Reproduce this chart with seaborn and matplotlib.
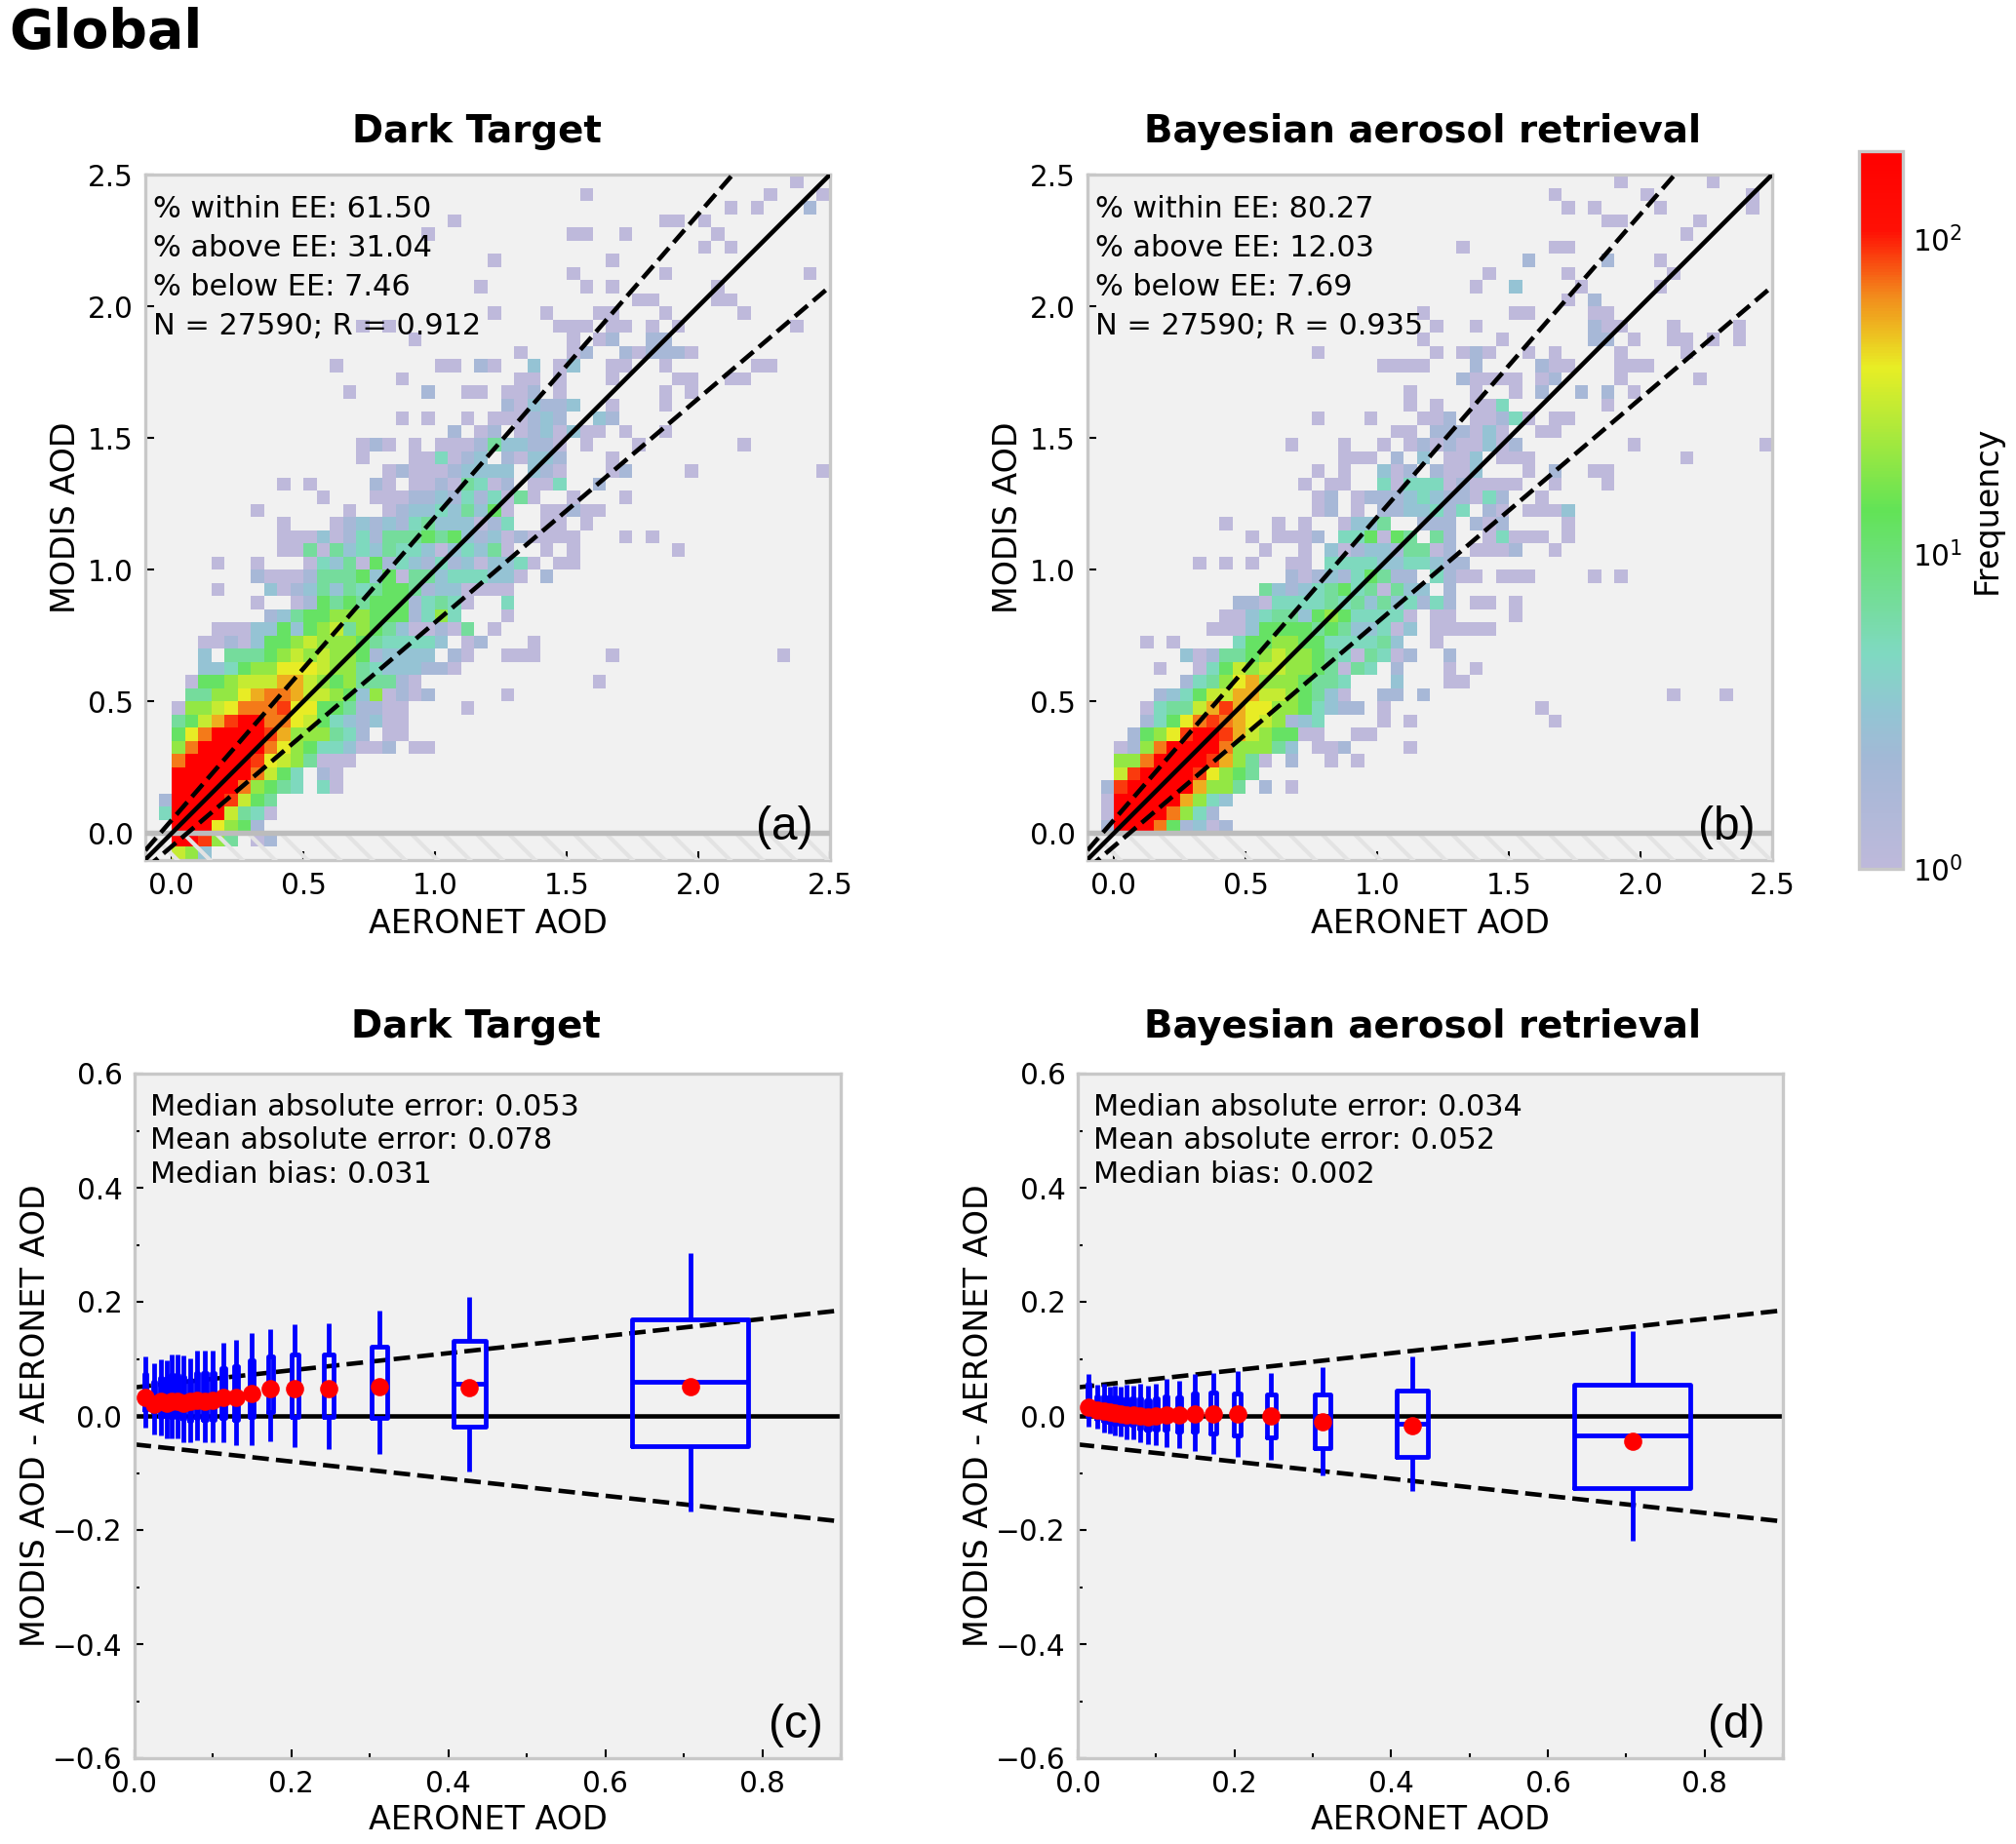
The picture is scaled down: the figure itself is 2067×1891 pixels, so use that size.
import numpy as np
import pandas as pd
import seaborn as sns
import matplotlib
matplotlib.use("Agg")
import matplotlib.pyplot as plt
from matplotlib.cm import ScalarMappable
from matplotlib.colors import LinearSegmentedColormap, LogNorm
from matplotlib.patches import Rectangle
from matplotlib.ticker import MultipleLocator

FREQ = {"1": 1, "2": 2, "3": 3, "4": 5, "5": 7, "6": 12, "7": 20, "8": 30,
        "9": 40, "A": 55, "B": 70, "C": 90, "D": 190}

# (MODIS bin, first AERONET bin, frequency letters); bins are 0.05 wide, bin 0 starts at AOD 0
DT_CELLS = [
    (-2, 0, "873"), (-1, 0, "DDC75.12"), (0, 0, "DDD9762"), (1, -1, "4DDDD8541"),
    (2, -1, "2DDDDC865"), (3, 0, "DDDDDB7654.41"), (4, 0, "DDDDDDB864.21"),
    (5, 0, "BDDDDDC9875111"), (6, 0, "7BDDDDDB976443112.11"), (7, 0, "69BDDDDCA777542.11"),
    (8, 0, "568ACDDBB986432311"), (9, 0, "17789BBBC996652211....1"),
    (10, 1, "55779ABBA8876371212"), (10, 25, "1"), (11, 1, "1667888AA876755521"), (11, 32, "1"),
    (12, 2, "33467799987754333221"), (13, 2, "3.5556787877623333.21"), (13, 25, "111"),
    (13, 33, "1"), (13, 46, "1"), (14, 2, "1121366787776544443.12"), (14, 27, "1"),
    (15, 3, "11133636785765311215"), (15, 24, "1"), (16, 7, "235667776662474"), (16, 25, "1"),
    (17, 6, "1..12656566624541"), (17, 25, "4"), (18, 3, "1"), (18, 7, "3123535456652331111"),
    (19, 6, "211125556361553444331.2"), (20, 3, "1"), (20, 6, "1...143516243242313341.11"),
    (21, 8, "115153435443134351..1.1"), (21, 38, "1"), (22, 8, "11131242555656323121111"),
    (22, 34, "1.1"), (23, 8, "1...12323245333124..11.1"), (24, 6, "1"),
    (24, 13, "1..1233435361..11211"), (25, 11, "1"), (25, 15, "1112232424151..1"), (25, 34, "1"),
    (26, 8, "1.1"), (26, 15, "21.11215412.114..2"), (27, 16, "1211123333.321...12"),
    (27, 39, "1"), (27, 49, "1"), (28, 14, "1"), (28, 18, "114123.21332"), (28, 33, "1"),
    (29, 14, "121.1.1112533221.1"), (29, 35, "1"), (29, 43, "1"), (30, 21, "2.12.1231311.1"),
    (30, 37, "1"), (31, 17, "1.1"), (31, 22, "1.111232..32"), (32, 25, "213223..1"), (32, 37, "1"),
    (33, 13, "1"), (33, 19, "2"), (33, 22, "11.112.1"), (33, 37, "1.1"), (34, 17, "1"),
    (34, 26, "11.1"), (34, 33, "1"), (34, 38, "11"), (34, 42, "11"), (35, 12, "1"),
    (35, 20, "11.21"), (35, 27, "3.13"), (35, 33, "11"), (35, 37, "1"), (35, 44, "11"),
    (36, 26, "1"), (36, 30, "12"), (36, 34, "212221"), (37, 18, "1"), (37, 30, "1.12"),
    (37, 36, "22"), (38, 14, "1.1"), (38, 29, "111.11.1.1"), (38, 47, "1"), (39, 24, "1"),
    (39, 28, "1"), (39, 32, "11"), (39, 37, "1"), (39, 43, "1"), (40, 35, "11"), (40, 41, "11"),
    (41, 23, "1"), (41, 31, "1.1"), (41, 41, "1"), (42, 30, "1"), (42, 37, "1"), (42, 48, "1"),
    (43, 24, "1"), (43, 33, "1"), (44, 40, "1.1"), (45, 19, "1"), (45, 30, "11"), (45, 34, "1"),
    (45, 41, "1"), (46, 21, "1"), (46, 37, "11"), (46, 40, "1"), (47, 42, "1"), (47, 44, "1"),
    (47, 48, "2"), (48, 31, "1"), (48, 45, "1"), (48, 49, "1"), (49, 47, "1"),
]

BAR_CELLS = [
    (0, -1, "2DDDB62312"), (1, -1, "1DDDDB742"), (2, -1, "1DDDDDA743"), (3, -1, "2CDDDDDA775.2.1"),
    (4, 0, "8CDDDDC9765"), (5, 0, "77BDDDDCA751.2..1.1"), (6, 0, "127BDDDDB77753.112....1"),
    (7, 1, "2679CDDCA876611..11"), (8, 2, "2469BCBA987234....1.1"), (8, 33, "1"),
    (9, 2, "14558ACA997764322.1"), (9, 32, "1"), (10, 3, "234688AA8876531..22.1"), (10, 23, "1"),
    (10, 42, "1"), (10, 46, "1"), (11, 5, "24579A7776554...3"), (11, 25, "11"), (12, 3, "1"),
    (12, 6, "14687887765154.2"), (12, 25, "1.1"), (13, 5, "312556787765415412"), (13, 25, "2"),
    (14, 2, "1.1"), (14, 9, "4667766444453..1"), (15, 7, "1113666656533413.11111"),
    (16, 8, "113455367644441.11....1"), (17, 9, "22144445453534242.11.1"),
    (18, 11, "5323456451533.2"), (19, 13, "2123246522.4211.111"), (19, 36, "1.1"),
    (20, 6, "1.1.1"), (20, 13, "11.44443344322"), (21, 11, "1..1.3123325512.1112..1"),
    (22, 10, "1.1112.446165.52..14111.1"), (23, 8, "1...1.1..1335..222.212....1"),
    (24, 15, "12.1.2233424.21.1113"), (25, 15, "12.122234322142..1"),
    (26, 14, "1.11..41444121111..1...1"), (27, 15, "1.1..312.2113...1.2..11"),
    (28, 17, "111.2.3.113.111"), (28, 43, "1"), (29, 13, "1"), (29, 17, "1"),
    (29, 20, "1.121211312"), (29, 39, "1"), (29, 49, "1"), (30, 21, "11.222131..11"),
    (31, 15, "1...1"), (31, 23, "112.11241.11"), (32, 22, "1.1..114"), (32, 37, "1"),
    (33, 22, "1"), (33, 27, "1"), (33, 30, "1"), (33, 32, "2"), (33, 35, "2"), (33, 37, "2.1"),
    (34, 26, "21111"), (34, 32, "12"), (34, 38, "1"), (34, 44, "1"), (35, 20, "1111"),
    (35, 27, "2"), (35, 32, "211"), (35, 38, "111"), (36, 15, "1"), (36, 24, "1.121"),
    (36, 31, "1.1"), (36, 38, "1"), (36, 43, "1"), (37, 23, "1"), (37, 29, "1"), (37, 36, "22.1"),
    (37, 42, "11.1.1"), (38, 24, "1"), (38, 27, "1"), (38, 36, "211"), (38, 42, "1"), (38, 47, "1"),
    (39, 23, "1"), (39, 30, "11"), (39, 36, "11"), (40, 34, "1.2"), (41, 27, "1"), (41, 30, "3"),
    (41, 35, "1"), (41, 41, "1"), (42, 28, "1"), (42, 34, "1"), (42, 42, "1"), (43, 31, "2"),
    (43, 37, "2"), (43, 41, "1"), (44, 26, "1"), (44, 33, "11"), (45, 43, "1"), (46, 37, "11"),
    (46, 44, "1"), (47, 34, "1.1"), (47, 41, "1"), (47, 48, "1"), (48, 33, "1"), (48, 40, "1"),
    (48, 48, "1"), (49, 38, "1"), (49, 45, "1"),
]

# Expected error envelope and 1:1 line
SCATTER_X = [-0.1, 2.5]
ONE_TO_ONE = [-0.1, 2.5]
EE_UPPER = [-0.065, 2.925]
EE_LOWER = [-0.135, 2.075]
DIFF_X = [0.0, 0.9]
DIFF_UPPER = [0.05, 0.185]
DIFF_LOWER = [-0.05, -0.185]

# Box plots, one box per AERONET AOD bin
BOX_X = [0.0137, 0.025, 0.0336, 0.0406, 0.0477, 0.0547, 0.0622, 0.0705, 0.0796, 0.0895,
         0.100, 0.113, 0.129, 0.149, 0.173, 0.204, 0.247, 0.312, 0.427, 0.708]
BOX_W = [0.003, 0.003, 0.003, 0.003, 0.003, 0.003, 0.003, 0.003, 0.0035, 0.004,
         0.004, 0.004, 0.005, 0.0053, 0.0066, 0.0085, 0.012, 0.02, 0.0405, 0.148]

DT_HI = [0.105, 0.092, 0.100, 0.097, 0.107, 0.107, 0.106, 0.101, 0.115, 0.115,
         0.115, 0.128, 0.134, 0.146, 0.152, 0.160, 0.162, 0.184, 0.208, 0.286]
DT_Q3 = [0.074, 0.060, 0.067, 0.065, 0.071, 0.071, 0.068, 0.063, 0.076, 0.076,
         0.076, 0.084, 0.088, 0.098, 0.104, 0.107, 0.107, 0.122, 0.131, 0.170]
DT_MED = [0.035, 0.024, 0.028, 0.026, 0.028, 0.028, 0.026, 0.026, 0.030, 0.030,
          0.030, 0.034, 0.034, 0.044, 0.050, 0.048, 0.050, 0.058, 0.056, 0.059]
DT_Q1 = [0.010, 0.007, -0.002, 0.001, -0.002, -0.002, -0.005, -0.009, -0.003, -0.006,
         -0.006, -0.003, -0.006, -0.002, 0.006, -0.002, -0.002, -0.003, -0.019, -0.053]
DT_LO = [-0.021, -0.033, -0.034, -0.039, -0.040, -0.040, -0.046, -0.046, -0.042, -0.047,
         -0.046, -0.047, -0.051, -0.051, -0.044, -0.055, -0.058, -0.066, -0.097, -0.168]
DT_MEAN = [0.033, 0.021, 0.025, 0.022, 0.025, 0.026, 0.023, 0.025, 0.028, 0.026,
           0.027, 0.032, 0.032, 0.039, 0.048, 0.048, 0.048, 0.052, 0.049, 0.051]

BAR_HI = [0.073, 0.055, 0.057, 0.052, 0.053, 0.051, 0.055, 0.053, 0.056, 0.053,
          0.056, 0.065, 0.061, 0.073, 0.076, 0.078, 0.076, 0.085, 0.105, 0.148]
BAR_Q3 = [0.056, 0.035, 0.035, 0.033, 0.032, 0.031, 0.031, 0.030, 0.031, 0.028,
          0.030, 0.035, 0.032, 0.039, 0.041, 0.039, 0.0375, 0.0375, 0.045, 0.0545]
BAR_MED = [0.017, 0.012, 0.010, 0.008, 0.007, 0.006, 0.005, 0.004, 0.002, 0.001,
           0.001, 0.002, 0.001, 0.002, 0.004, 0.002, 0.000, -0.005, -0.014, -0.035]
BAR_Q1 = [0.000, -0.005, -0.009, -0.010, -0.013, -0.013, -0.016, -0.016, -0.022, -0.024,
          -0.024, -0.024, -0.028, -0.028, -0.030, -0.034, -0.0375, -0.056, -0.072, -0.126]
BAR_LO = [-0.019, -0.022, -0.029, -0.031, -0.034, -0.036, -0.041, -0.041, -0.046, -0.050,
          -0.051, -0.054, -0.057, -0.061, -0.066, -0.072, -0.077, -0.104, -0.131, -0.219]
BAR_MEAN = [0.015, 0.011, 0.008, 0.007, 0.005, 0.003, 0.002, 0.002, 0.000, -0.001,
            0.000, 0.001, 0.001, 0.003, 0.004, 0.003, 0.000, -0.010, -0.017, -0.045]

TITLES = ["Dark Target", "Bayesian aerosol retrieval"]
DT_STATS = ["% within EE: 61.50", "% above EE: 31.04", "% below EE: 7.46", "N = 27590; R = 0.912"]
BAR_STATS = ["% within EE: 80.27", "% above EE: 12.03", "% below EE: 7.69", "N = 27590; R = 0.935"]
DT_ERRORS = ["Median absolute error: 0.053", "Mean absolute error: 0.078", "Median bias: 0.031"]
BAR_ERRORS = ["Median absolute error: 0.034", "Mean absolute error: 0.052", "Median bias: 0.002"]

sns.set_style("ticks", {"axes.facecolor": "#F1F1F1", "axes.edgecolor": "#C8C8C8"})
plt.rcParams["font.family"] = ["DejaVu Sans"]
plt.rcParams["font.size"] = 8
plt.rcParams["axes.linewidth"] = 0.8
plt.rcParams["hatch.linewidth"] = 1.0
plt.rcParams["text.color"] = "black"
plt.rcParams["axes.labelcolor"] = "black"
plt.rcParams["axes.titlecolor"] = "black"
plt.rcParams["xtick.color"] = "black"
plt.rcParams["ytick.color"] = "black"

W, H = 2067, 1891
BIN = 0.05
cmap = LinearSegmentedColormap.from_list("freq", [
    (0.0, "#BEB9DB"), (0.15, "#A3B8D6"), (0.22, "#92C5D3"), (0.3, "#7FD9C1"),
    (0.5, "#62E356"), (0.7, "#E8EE25"), (0.8, "#F28A1C"), (0.89, "#FF1005"), (1.0, "#FF0000")])
norm = LogNorm(1, 190)


def add_axes(fig, left, top, right, bottom):
    return fig.add_axes([left / W, 1 - bottom / H, (right - left) / W, (bottom - top) / H])


def cells_to_frame(cells):
    rows = []
    for row, first, letters in cells:
        for i, ch in enumerate(letters):
            if ch != ".":
                rows.append(((first + i + 0.5) * BIN, (row + 0.5) * BIN, FREQ[ch]))
    return pd.DataFrame(rows, columns=["aeronet", "modis", "freq"])


def scatter_panel(ax, cells, stats, title, title_x, tag):
    df = cells_to_frame(cells)
    sns.histplot(data=df, x="aeronet", y="modis", weights="freq", bins=52,
                 binrange=(-0.1, 2.5), cmap=cmap, ax=ax)
    ax.collections[-1].set_norm(norm)
    ax.add_patch(Rectangle((-0.1, -0.1), 2.6, 0.1, fill=False, hatch="\\\\\\", edgecolor="#E3E3E3",
                           linewidth=0, zorder=3))
    ax.axhline(0, color="#BCBCBC", lw=1.3, zorder=3)
    sns.lineplot(x=SCATTER_X, y=ONE_TO_ONE, color="k", lw=1.1, ax=ax, zorder=4)
    for band in (EE_UPPER, EE_LOWER):
        sns.lineplot(x=SCATTER_X, y=band, color="k", lw=1.1, linestyle="--", ax=ax, zorder=4)
    ax.set_xlim(-0.1, 2.5)
    ax.set_ylim(-0.1, 2.5)
    ax.set_xticks([0, 0.5, 1, 1.5, 2, 2.5])
    ax.set_yticks([0, 0.5, 1, 1.5, 2, 2.5])
    ax.set_xlabel("AERONET AOD", labelpad=2)
    ax.set_ylabel("MODIS AOD")
    ax.yaxis.set_label_coords(-0.092, 0.5)
    ax.set_title(title, fontweight="bold", fontsize=9.3, pad=7.8, x=title_x)
    ax.tick_params(direction="in", length=2.2, width=0.5, labelsize=7.1, pad=3)
    ax.text(0.012, 0.970, "\n".join(stats), transform=ax.transAxes, va="top", ha="left", fontsize=7.3,
            linespacing=1.47, zorder=5)
    ax.text(0.975, 0.015, tag, transform=ax.transAxes, va="bottom", ha="right", fontsize=11.5,
            family="Liberation Sans", zorder=5)


def diff_panel(ax, hi, q3, med, q1, lo, mean, stats, title, title_x, tag):
    for i, x in enumerate(BOX_X):
        box = pd.DataFrame({"x": [x] * 5, "y": [lo[i], q1[i], med[i], q3[i], hi[i]]})
        sns.boxplot(data=box, x="x", y="y", orient="x", native_scale=True, width=BOX_W[i], whis=np.inf,
                    showcaps=False, fill=False, color="blue", saturation=1, linewidth=1.15, ax=ax, zorder=3)
    sns.lineplot(x=DIFF_X, y=[0, 0], color="k", lw=1.1, ax=ax, zorder=2)
    for band in (DIFF_UPPER, DIFF_LOWER):
        sns.lineplot(x=DIFF_X, y=band, color="k", lw=1.1, linestyle="--", ax=ax, zorder=2)
    sns.scatterplot(x=BOX_X, y=mean, color="red", s=20, linewidth=0, ax=ax, zorder=5)
    ax.set_xlim(0, 0.9)
    ax.set_ylim(-0.6, 0.6)
    ax.set_xticks([0, 0.2, 0.4, 0.6, 0.8])
    ax.set_yticks([-0.6, -0.4, -0.2, 0, 0.2, 0.4, 0.6])
    ax.xaxis.set_minor_locator(MultipleLocator(0.1))
    ax.yaxis.set_minor_locator(MultipleLocator(0.1))
    ax.set_xlabel("AERONET AOD", labelpad=1.2)
    ax.set_ylabel("MODIS AOD - AERONET AOD")
    ax.yaxis.set_label_coords(-0.117, 0.5)
    ax.set_title(title, fontweight="bold", fontsize=9.3, pad=8.8, x=title_x)
    ax.tick_params(which="major", direction="in", length=2.2, width=0.5, labelsize=7.1, pad=3)
    ax.tick_params(which="minor", direction="in", length=1.2, width=0.5)
    ax.text(0.022, 0.972, "\n".join(stats), transform=ax.transAxes, va="top", ha="left", fontsize=7.3,
            linespacing=1.24, zorder=6)
    ax.text(0.975, 0.015, tag, transform=ax.transAxes, va="bottom", ha="right", fontsize=11.5,
            family="Liberation Sans", zorder=6)


fig = plt.figure(figsize=(W / 300, H / 300), dpi=300)

ax_a = add_axes(fig, 149, 179, 851, 881.5)
ax_b = add_axes(fig, 1115, 179, 1817, 881.5)
ax_c = add_axes(fig, 138, 1101, 862, 1803)
ax_d = add_axes(fig, 1105, 1101, 1828, 1803)
cax = add_axes(fig, 1906, 155, 1951, 891)

scatter_panel(ax_a, DT_CELLS, DT_STATS, TITLES[0], 0.484, "(a)")
scatter_panel(ax_b, BAR_CELLS, BAR_STATS, TITLES[1], 0.49, "(b)")
diff_panel(ax_c, DT_HI, DT_Q3, DT_MED, DT_Q1, DT_LO, DT_MEAN, DT_ERRORS, TITLES[0], 0.4836, "(c)")
diff_panel(ax_d, BAR_HI, BAR_Q3, BAR_MED, BAR_Q1, BAR_LO, BAR_MEAN, BAR_ERRORS, TITLES[1], 0.489, "(d)")

cb = fig.colorbar(ScalarMappable(norm=norm, cmap=cmap), cax=cax)
cb.set_label("Frequency", fontsize=8)
cb.ax.yaxis.set_label_coords(2.55, 0.5)
cb.ax.tick_params(which="major", direction="in", length=2, width=0.5, labelsize=7.1, pad=2.5)
cb.ax.tick_params(which="minor", direction="in", length=2, width=0.5)
cb.outline.set_edgecolor("#C8C8C8")

fig.text(9 / W, 1 - 49 / H, "Global", fontsize=13.3, fontweight="bold", ha="left", va="baseline")

fig.savefig("out.png", dpi=300)
